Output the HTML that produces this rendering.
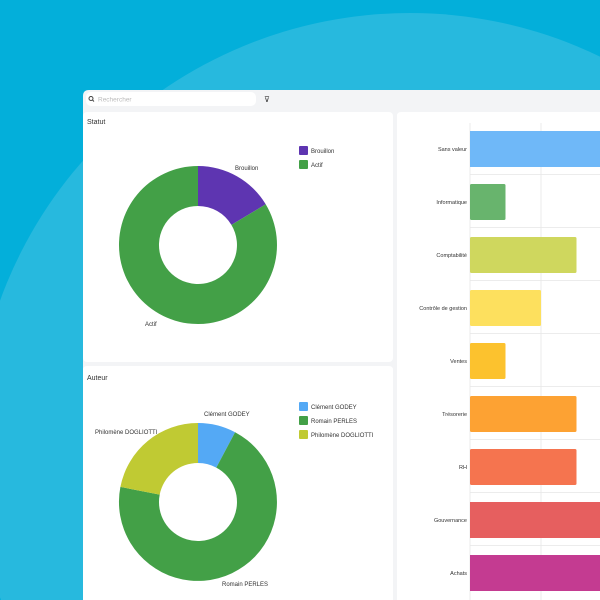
<!DOCTYPE html>
<html><head><meta charset="utf-8"><style>
html,body{margin:0;padding:0;width:600px;height:600px;overflow:hidden;background:#00b0db;}
svg{display:block;}
svg text{font-family:"Liberation Sans",sans-serif;}
</style></head><body>
<svg width="600" height="600" viewBox="0 0 600 600" xmlns="http://www.w3.org/2000/svg">
<rect width="600" height="600" fill="#03afda"/>
<circle cx="410" cy="449" r="436" fill="#27b9de"/>
<path d="M83 600 V96 Q83 90 89 90 H600 V600 Z" fill="#f3f4f6"/>
<rect x="86" y="92" width="170" height="14" rx="5" fill="#fff"/>
<circle cx="91" cy="98.5" r="2" fill="none" stroke="#444" stroke-width="1"/>
<line x1="92.5" y1="100" x2="94" y2="101.5" stroke="#444" stroke-width="1"/>
<text x="98" y="101.5" font-size="6.5" fill="#bbb">Rechercher</text>
<text x="264" y="102" font-size="8" fill="#333">⊽</text>
<rect x="83" y="112" width="310" height="250" rx="4" fill="#fff"/>
<path d="M83 600 V370 Q83 366 87 366 H389 Q393 366 393 370 V600 Z" fill="#fff"/>
<path d="M397 600 V116 Q397 112 401 112 H600 V600 Z" fill="#fff"/>
<text x="87" y="124" font-size="7" fill="#333">Statut</text>
<text x="87" y="380" font-size="7" fill="#333">Auteur</text>
<path d="M198 166 A79 79 0 0 1 265.7 204.3 L231.4 224.9 A39 39 0 0 0 198 206 Z" fill="#5e35b1"/>
<path d="M265.7 204.3 A79 79 0 1 1 198 166 L198 206 A39 39 0 1 0 231.4 224.9 Z" fill="#43a047"/>
<text x="235" y="170" font-size="6" fill="#333">Brouillon</text>
<text x="145" y="326" font-size="6" fill="#333">Actif</text>
<rect x="299" y="146" width="9" height="9" rx="1" fill="#5e35b1"/>
<text x="311" y="153" font-size="6" fill="#333">Brouillon</text>
<rect x="299" y="160" width="9" height="9" rx="1" fill="#43a047"/>
<text x="311" y="167" font-size="6" fill="#333">Actif</text>
<path d="M198 423 A79 79 0 0 1 235.1 432.2 L216.3 467.6 A39 39 0 0 0 198 463 Z" fill="#54a9f5"/>
<path d="M235.1 432.2 A79 79 0 1 1 120.4 486.9 L159.7 494.6 A39 39 0 1 0 216.3 467.6 Z" fill="#43a047"/>
<path d="M120.4 486.9 A79 79 0 0 1 198 423 L198 463 A39 39 0 0 0 159.7 494.6 Z" fill="#c0ca33"/>
<text x="204" y="416" font-size="6" fill="#333">Clément GODEY</text>
<text x="95" y="434" font-size="6" fill="#333">Philomène DOGLIOTTI</text>
<text x="222" y="586" font-size="6" fill="#333">Romain PERLES</text>
<rect x="299" y="402" width="9" height="9" rx="1" fill="#54a9f5"/>
<text x="311" y="409" font-size="6" fill="#333">Clément GODEY</text>
<rect x="299" y="416" width="9" height="9" rx="1" fill="#43a047"/>
<text x="311" y="423" font-size="6" fill="#333">Romain PERLES</text>
<rect x="299" y="430" width="9" height="9" rx="1" fill="#c0ca33"/>
<text x="311" y="437" font-size="6" fill="#333">Philomène DOGLIOTTI</text>
<g stroke="#e6e6e6" stroke-width="0.8">
<line x1="470" y1="123" x2="470" y2="600"/>
<line x1="541" y1="123" x2="541" y2="600"/>
<line x1="470" y1="174.5" x2="600" y2="174.5"/>
<line x1="470" y1="227.5" x2="600" y2="227.5"/>
<line x1="470" y1="280.5" x2="600" y2="280.5"/>
<line x1="470" y1="333.5" x2="600" y2="333.5"/>
<line x1="470" y1="386.5" x2="600" y2="386.5"/>
<line x1="470" y1="439.5" x2="600" y2="439.5"/>
<line x1="470" y1="492.5" x2="600" y2="492.5"/>
<line x1="470" y1="545.5" x2="600" y2="545.5"/>
</g>
<rect x="470" y="131" width="130" height="36" fill="#6fb8f8"/>
<rect x="470" y="184" width="35.5" height="36" rx="1.5" fill="#68b46d"/>
<rect x="470" y="237" width="106.5" height="36" rx="1.5" fill="#cfd75e"/>
<rect x="470" y="290" width="71" height="36" rx="1.5" fill="#fde05e"/>
<rect x="470" y="343" width="35.5" height="36" rx="1.5" fill="#fcc22e"/>
<rect x="470" y="396" width="106.5" height="36" rx="1.5" fill="#fda233"/>
<rect x="470" y="449" width="106.5" height="36" rx="1.5" fill="#f5744f"/>
<rect x="470" y="502" width="130" height="36" fill="#e65f5f"/>
<rect x="470" y="555" width="130" height="36" fill="#c43b91"/>
<g font-size="5.5" fill="#333" text-anchor="end">
<text x="467" y="151">Sans valeur</text>
<text x="467" y="204">Informatique</text>
<text x="467" y="257">Comptabilité</text>
<text x="467" y="310">Contrôle de gestion</text>
<text x="467" y="363">Ventes</text>
<text x="467" y="416">Trésorerie</text>
<text x="467" y="469">RH</text>
<text x="467" y="522">Gouvernance</text>
<text x="467" y="575">Achats</text>
</g>
</svg>
</body></html>
